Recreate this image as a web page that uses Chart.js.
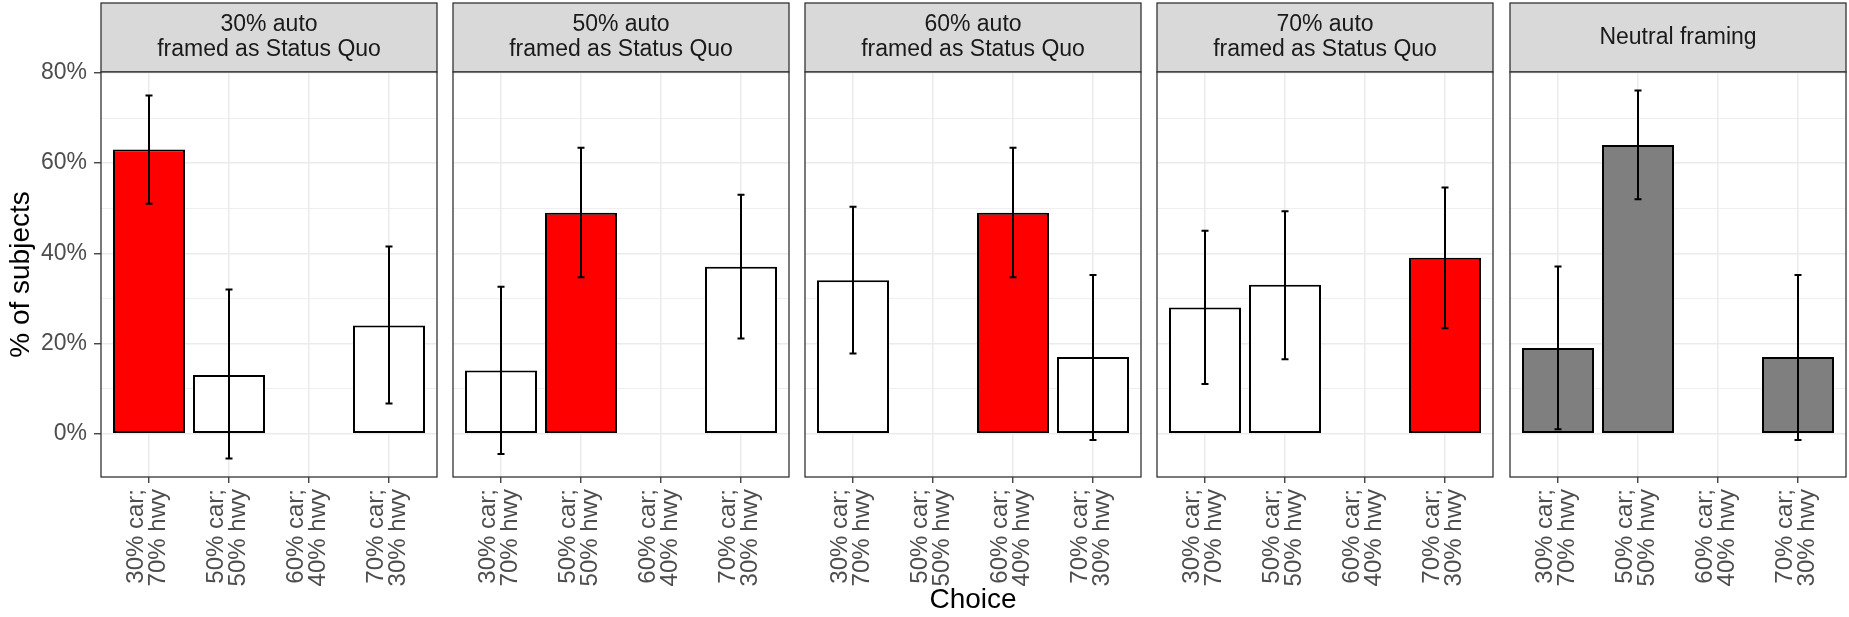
<!DOCTYPE html>
<html>
<head>
<meta charset="utf-8">
<script src="https://cdn.jsdelivr.net/npm/chart.js@4.4.0/dist/chart.umd.min.js"></script>
<style>
  html, body { margin: 0; padding: 0; background: #fff; }
  body { width: 1849px; height: 617px; position: relative; overflow: hidden; }
  .panel { position: absolute; top: 0; height: 617px; }
</style>
</head>
<body>
<script>
// facet titles and choices
const panelTitles = [
  ['30% auto', 'framed as Status Quo'],
  ['50% auto', 'framed as Status Quo'],
  ['60% auto', 'framed as Status Quo'],
  ['70% auto', 'framed as Status Quo'],
  ['Neutral framing']
];
const choiceLabels = [
  ['30% car;', '70% hwy'],
  ['50% car;', '50% hwy'],
  ['60% car;', '40% hwy'],
  ['70% car;', '30% hwy']
];
const choicePos = [1, 2, 3, 4];

// % of subjects per panel (null = no bar)
const pctSubjects = [
  [63, 13, null, 24],
  [14, 49, null, 37],
  [34, null, 49, 17],
  [28, 33, null, 39],
  [19, 64, null, 17]
];
const ciLow = [
  [51, -5.5, null, 6.7],
  [-4.5, 34.7, null, 21.1],
  [17.8, null, 34.7, -1.4],
  [11, 16.5, null, 23.4],
  [1, 52, null, -1.4]
];
const ciHigh = [
  [75, 32, null, 41.5],
  [32.6, 63.4, null, 53],
  [50.3, null, 63.4, 35.2],
  [45, 49.3, null, 54.6],
  [37.1, 76.1, null, 35.2]
];
// which choice was the status quo in each panel (null = neutral)
const statusQuoChoice = [0, 1, 2, 3, null];
const yTicks = [0, 10, 20, 30, 40, 50, 60, 70, 80];

const FONT = "'Liberation Sans', Arial, Helvetica, sans-serif";
const panelLeft = [101, 453, 805, 1157, 1510];
const panelWidth = 336;
const PAD = 6;
const TOP = 72, BOTTOM = 477, H = 617;

// strip, error bars and panel border
const facetPlugin = {
  id: 'facet',
  beforeDraw(chart, args, opts) {
    const { ctx, chartArea: a } = chart;
    ctx.save();
    ctx.fillStyle = '#D9D9D9';
    ctx.fillRect(a.left, 3, a.right - a.left, a.top - 3);
    ctx.strokeStyle = '#333333';
    ctx.lineWidth = 1.3;
    ctx.strokeRect(a.left, 3, a.right - a.left, a.top - 3);
    ctx.fillStyle = '#1A1A1A';
    ctx.font = '23px ' + FONT;
    ctx.textAlign = 'center';
    ctx.textBaseline = 'middle';
    const cx = (a.left + a.right) / 2;
    const mid = (3 + a.top) / 2;
    const n = opts.title.length;
    opts.title.forEach((t, i) => {
      ctx.fillText(t, cx, mid + (i - (n - 1) / 2) * 25);
    });
    ctx.restore();
  },
  afterDatasetsDraw(chart, args, opts) {
    const { ctx, chartArea: a, scales: { x, y } } = chart;
    ctx.save();
    ctx.strokeStyle = '#000';
    ctx.lineWidth = 2;
    choicePos.forEach((c, i) => {
      if (opts.lo[i] == null) return;
      const px = x.getPixelForValue(c);
      const y1 = y.getPixelForValue(opts.lo[i]);
      const y2 = y.getPixelForValue(opts.hi[i]);
      ctx.beginPath();
      ctx.moveTo(px, y1); ctx.lineTo(px, y2);
      ctx.moveTo(px - 3.5, y1); ctx.lineTo(px + 3.5, y1);
      ctx.moveTo(px - 3.5, y2); ctx.lineTo(px + 3.5, y2);
      ctx.stroke();
    });
    ctx.strokeStyle = '#333333';
    ctx.lineWidth = 1.3;
    ctx.strokeRect(a.left, a.top, a.right - a.left, a.bottom - a.top);
    ctx.restore();
  }
};

panelTitles.forEach((title, k) => {
  const first = k === 0;
  const box = document.createElement('div');
  box.className = 'panel';
  const left = first ? 0 : panelLeft[k] - PAD;
  const width = first ? panelLeft[0] + panelWidth + PAD : panelWidth + 2 * PAD;
  box.style.left = left + 'px';
  box.style.width = width + 'px';
  const canvas = document.createElement('canvas');
  box.appendChild(canvas);
  document.body.appendChild(box);

  const sq = statusQuoChoice[k];
  const baseFill = sq == null ? '#7F7F7F' : '#FFFFFF';
  const points = choicePos
    .map((c, i) => ({ x: c, y: pctSubjects[k][i] }))
    .filter(p => p.y != null);

  new Chart(canvas, {
    type: 'bar',
    data: {
      datasets: [{
        data: points,
        backgroundColor: c => (c.raw && c.raw.x - 1 === sq) ? '#FF0000' : baseFill,
        borderColor: '#000000',
        borderWidth: 2,
        borderSkipped: false,
        barPercentage: 0.9,
        categoryPercentage: 1.0
      }]
    },
    plugins: [facetPlugin],
    options: {
      responsive: true,
      maintainAspectRatio: false,
      animation: false,
      layout: { padding: { left: first ? 0 : PAD, right: PAD, top: TOP, bottom: 0 } },
      plugins: {
        legend: { display: false },
        tooltip: { enabled: false },
        facet: { title: title, lo: ciLow[k], hi: ciHigh[k] }
      },
      scales: {
        x: {
          type: 'linear',
          offset: false,
          min: 0.4,
          max: 4.6,
          afterBuildTicks: s => { s.ticks = choicePos.map(v => ({ value: v })); },
          afterFit: s => { s.height = H - BOTTOM; s.paddingLeft = 0; s.paddingRight = 0; },
          border: { display: false },
          grid: { offset: false, color: '#EBEBEB', lineWidth: 1.5, tickColor: '#333333', tickLength: 6, tickWidth: 1.3 },
          ticks: {
            autoSkip: false,
            minRotation: 90,
            maxRotation: 90,
            padding: 6,
            labelOffset: -13,
            color: '#4D4D4D',
            font: { family: FONT, size: 24, lineHeight: 0.92 },
            callback: v => choiceLabels[Math.round(v) - 1]
          },
          title: {
            display: k === 2,
            text: 'Choice',
            color: '#000',
            font: { family: FONT, size: 28 },
            padding: { top: 0, bottom: 0 }
          }
        },
        y: {
          min: -9.6,
          max: 80.2,
          afterBuildTicks: s => { s.ticks = yTicks.map(v => ({ value: v })); },
          afterFit: s => { s.width = first ? panelLeft[0] : 0; s.paddingTop = 0; s.paddingBottom = 0; },
          border: { display: false },
          grid: {
            color: '#EBEBEB',
            lineWidth: c => (c.tick && c.tick.value % 20 === 0) ? 1.5 : 0.8,
            tickColor: c => (c.tick && c.tick.value % 20 === 0) ? '#333333' : 'rgba(0,0,0,0)',
            tickLength: 7,
            tickWidth: 1.3,
            drawTicks: first
          },
          ticks: {
            display: first,
            autoSkip: false,
            padding: 7,
            color: '#4D4D4D',
            font: { family: FONT, size: 23 },
            callback: v => v % 20 === 0 ? v + '%' : ''
          },
          title: {
            display: first,
            text: '% of subjects',
            color: '#000',
            font: { family: FONT, size: 28 },
            padding: { top: 4, bottom: 0 }
          }
        }
      }
    }
  });
});
</script>
</body>
</html>
